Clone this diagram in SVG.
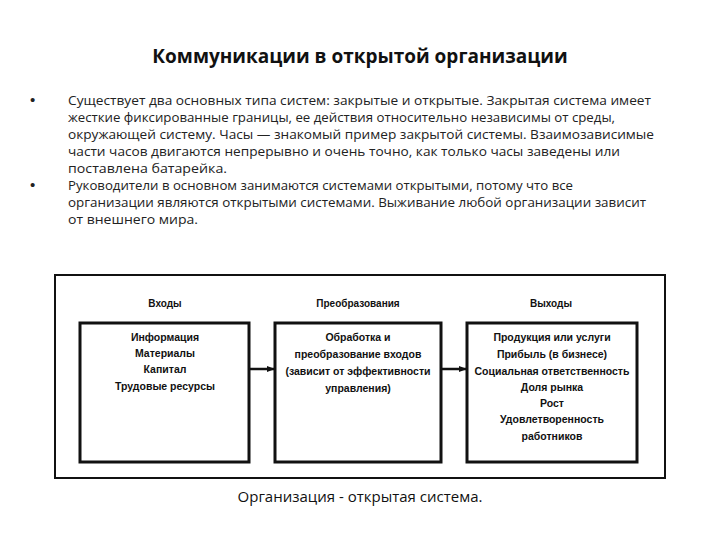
<svg xmlns="http://www.w3.org/2000/svg" width="720" height="540" viewBox="0 0 720 540">
<defs>
<style>
.title{font-family:"Open Sans","Liberation Sans",sans-serif;font-weight:bold;font-size:19px;fill:#111;text-anchor:middle}
.body{font-family:"Open Sans","Liberation Sans",sans-serif;font-size:13.5px;fill:#222}
.blt{font-family:"Liberation Sans",Arial,sans-serif;font-size:15px;fill:#222}
.hdr{font-family:"Liberation Sans",Arial,sans-serif;font-weight:bold;font-size:10px;fill:#111;text-anchor:middle}
.lbl{font-family:"Liberation Sans",Arial,sans-serif;font-weight:bold;font-size:10.5px;fill:#111;text-anchor:middle}
.cap{font-family:"Open Sans","Liberation Sans",sans-serif;font-size:15px;fill:#111;text-anchor:middle}
.box{fill:#fff;stroke:#111;stroke-width:3}
.frame{fill:none;stroke:#111;stroke-width:2}
.conn{stroke:#111;stroke-width:2.5;fill:none}
</style>
<marker id="ah" markerWidth="8" markerHeight="6" refX="7" refY="3" orient="auto" markerUnits="userSpaceOnUse">
<path d="M0,0 L8,3 L0,6 Z" fill="#111"/>
</marker>
</defs>
<rect width="720" height="540" fill="#fff"/>
<text class="title" x="360" y="63">Коммуникации в открытой организации</text>
<g id="bullets">
<text class="blt" x="30" y="105">•</text>
<text class="body" x="68" y="105" textLength="583" lengthAdjust="spacingAndGlyphs">Существует два основных типа систем: закрытые и открытые. Закрытая система имеет</text>
<text class="body" x="68" y="122" textLength="547" lengthAdjust="spacingAndGlyphs">жесткие фиксированные границы, ее действия относительно независимы от среды,</text>
<text class="body" x="68" y="139" textLength="586" lengthAdjust="spacingAndGlyphs">окружающей систему. Часы — знакомый пример закрытой системы. Взаимозависимые</text>
<text class="body" x="68" y="156" textLength="552" lengthAdjust="spacingAndGlyphs">части часов двигаются непрерывно и очень точно, как только часы заведены или</text>
<text class="body" x="68" y="173" textLength="159" lengthAdjust="spacingAndGlyphs">поставлена батарейка.</text>
<text class="blt" x="30" y="190">•</text>
<text class="body" x="68" y="190" textLength="505" lengthAdjust="spacingAndGlyphs">Руководители в основном занимаются системами открытыми, потому что все</text>
<text class="body" x="68" y="207" textLength="578" lengthAdjust="spacingAndGlyphs">организации являются открытыми системами. Выживание любой организации зависит</text>
<text class="body" x="68" y="224" textLength="130" lengthAdjust="spacingAndGlyphs">от внешнего мира.</text>
</g>
<rect class="frame" x="55" y="275" width="610" height="203"/>
<g id="connectors">
<line class="conn" x1="250" y1="369" x2="274" y2="369" marker-end="url(#ah)"/>
<line class="conn" x1="442" y1="369" x2="466" y2="369" marker-end="url(#ah)"/>
</g>
<g id="inputs">
<text class="hdr" x="165" y="307">Входы</text>
<rect class="box" x="80" y="323" width="169" height="139"/>
<text class="lbl" x="165" y="341">Информация</text>
<text class="lbl" x="165" y="357">Материалы</text>
<text class="lbl" x="165" y="373">Капитал</text>
<text class="lbl" x="165" y="390">Трудовые ресурсы</text>
</g>
<g id="transform">
<text class="hdr" x="358" y="307">Преобразования</text>
<rect class="box" x="275" y="323" width="166" height="139"/>
<text class="lbl" x="358" y="341">Обработка и</text>
<text class="lbl" x="358" y="358">преобразование входов</text>
<text class="lbl" x="358" y="375">(зависит от эффективности</text>
<text class="lbl" x="358" y="392">управления)</text>
</g>
<g id="outputs">
<text class="hdr" x="551" y="307">Выходы</text>
<rect class="box" x="467" y="323" width="170" height="139"/>
<text class="lbl" x="552" y="341">Продукция или услуги</text>
<text class="lbl" x="552" y="358">Прибыль (в бизнесе)</text>
<text class="lbl" x="552" y="375">Социальная ответственность</text>
<text class="lbl" x="552" y="391">Доля рынка</text>
<text class="lbl" x="552" y="407">Рост</text>
<text class="lbl" x="552" y="423">Удовлетворенность</text>
<text class="lbl" x="552" y="440">работников</text>
</g>
<text class="cap" x="360" y="502">Организация - открытая система.</text>
</svg>
